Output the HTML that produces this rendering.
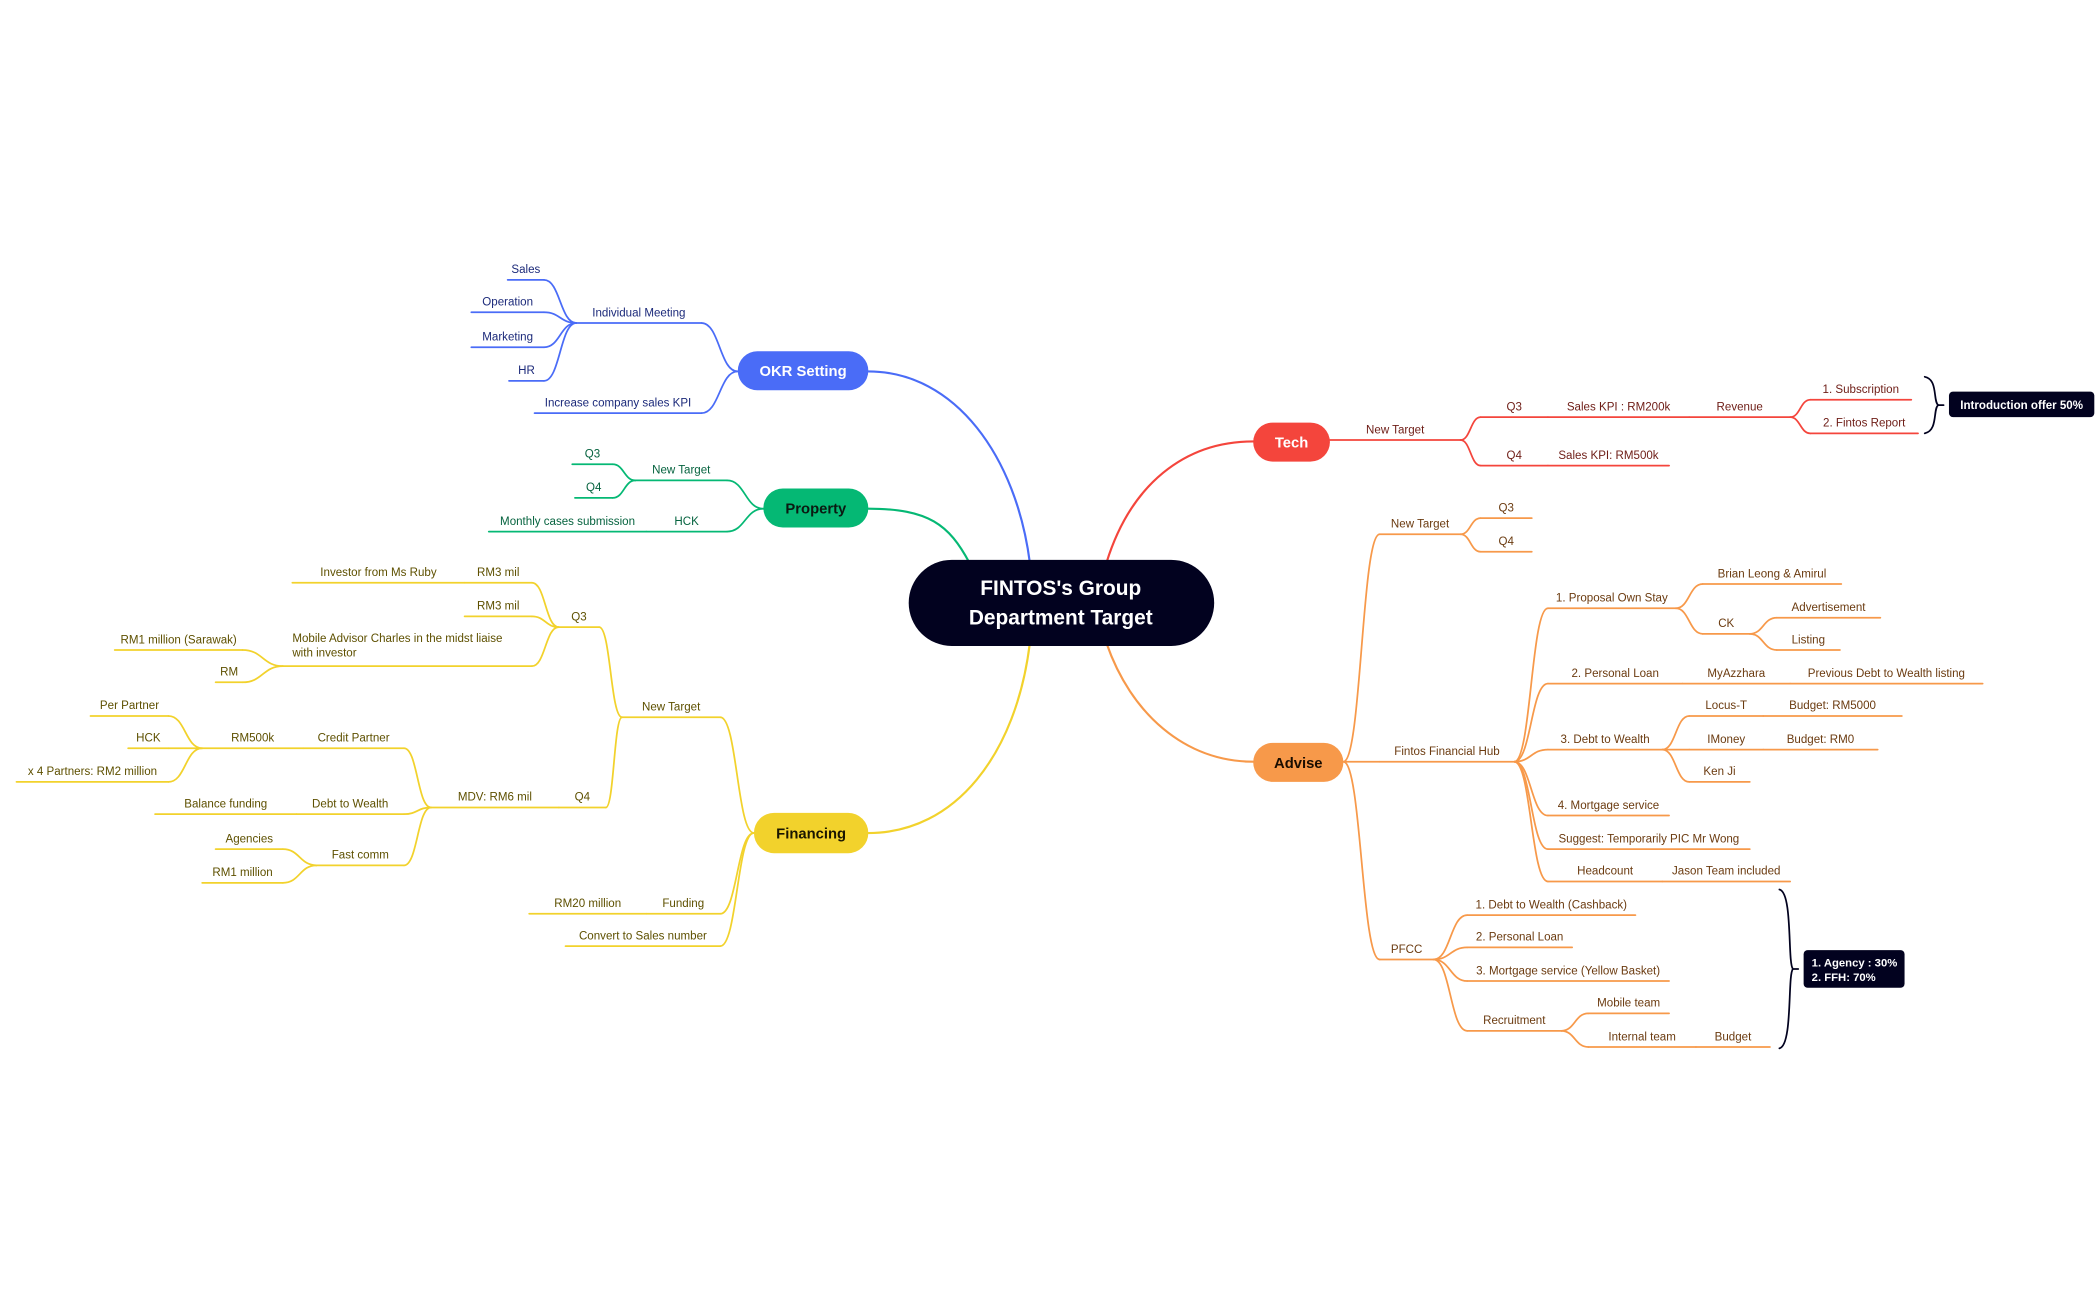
<!DOCTYPE html>
<html><head><meta charset="utf-8"><style>
html,body{margin:0;padding:0;background:#fff;width:2100px;height:1300px;overflow:hidden}
svg{display:block}
text{font-family:"Liberation Sans",sans-serif}
</style></head><body>
<svg id="s" width="2100" height="1300" viewBox="0 0 1560 966" xmlns="http://www.w3.org/2000/svg">
<g id="g" fill="none" stroke-width="1.3" stroke-linecap="round"></g>
</svg>
<script>
var g=document.getElementById('g'),NS='http://www.w3.org/2000/svg';
function el(t,a,txt){var e=document.createElementNS(NS,t);for(var k in a)e.setAttribute(k,a[k]);if(txt!==undefined)e.textContent=txt;g.appendChild(e);return e;}
function path(d,c,w){el('path',{d:d,stroke:c,'stroke-width':w||1.3,fill:'none'});}
function conn(px,py,cx,cy,c){var m=(px+cx)/2;path('M'+px+' '+py+' C'+m+' '+py+','+m+' '+cy+','+cx+' '+cy,c);}
function node(x1,x2,y,t,c,tc,lines){path('M'+x1+' '+y+' L'+x2+' '+y,c);
 if(lines){for(var i=0;i<lines.length;i++)el('text',{x:x1+7,y:y-18+i*11,'font-size':8.6,fill:tc,stroke:'none'},lines[i]);}
 else el('text',{x:(x1+x2)/2,y:y-5,'font-size':8.6,fill:tc,stroke:'none','text-anchor':'middle'},t);}
function pill(x1,y1,x2,y2,f,t,tc,fs){el('rect',{x:x1,y:y1,width:x2-x1,height:y2-y1,rx:(y2-y1)/2,fill:f,stroke:'none'});
 el('text',{x:(x1+x2)/2,y:(y1+y2)/2+4,'font-size':fs||11,'font-weight':'bold',fill:tc,stroke:'none','text-anchor':'middle'},t);}
var B='#4a6cf7',BT='#1c2a7a',G='#05b874',GT='#06633f',Y='#f2d22c',YT='#5e5000',R='#f4453c',RT='#6e1d16',O='#f7994a',OT='#6b3b10';
// main connectors
path('M765 418 C755 340,710 276,645 276',B,1.6);
path('M720 418 C705 390,690 378,645 378',G,1.6);
path('M765 478 C755 560,710 619,645 619',Y,1.6);
path('M822 418 C840 360,880 328,931 328',R,1.6);
path('M822 478 C840 530,880 566,931 566',O,1.6);
// OKR
node(428,521,240,'Individual Meeting',B,BT);conn(548,276,521,240,B);
node(397,521,307,'Increase company sales KPI',B,BT);conn(548,276,521,307,B);
[[377,208,'Sales'],[350,232,'Operation'],[350,258,'Marketing'],[378,283,'HR']].forEach(function(a){node(a[0],404,a[1],a[2],B,BT);conn(428,240,404,a[1],B);});
// Property
node(472,540,357,'New Target',G,GT);conn(567,378,540,357,G);
node(480,540,395,'HCK',G,GT);conn(567,378,540,395,G);node(363,480,395,'Monthly cases submission',G,GT);
node(425,455,345,'Q3',G,GT);conn(472,357,455,345,G);
node(427,455,370,'Q4',G,GT);conn(472,357,455,370,G);
// Financing
node(462,535,533,'New Target',Y,YT);conn(560,619,535,533,Y);
node(480,535,679,'Funding',Y,YT);conn(560,619,535,679,Y);node(393,480,679,'RM20 million',Y,YT);
node(420,535,703,'Convert to Sales number',Y,YT);conn(560,619,535,703,Y);
node(415,445,466,'Q3',Y,YT);conn(462,533,445,466,Y);
node(415,450,600,'Q4',Y,YT);conn(462,533,450,600,Y);
node(345,395,433,'RM3 mil',Y,YT);conn(415,466,395,433,Y);node(217,345,433,'Investor from Ms Ruby',Y,YT);
node(345,395,458,'RM3 mil',Y,YT);conn(415,466,395,458,Y);
node(210,395,495,'',Y,YT,['Mobile Advisor Charles in the midst liaise','with investor']);conn(415,466,395,495,Y);
node(85,180,483,'RM1 million (Sarawak)',Y,YT);conn(210,495,180,483,Y);
node(160,180,507,'RM',Y,YT);conn(210,495,180,507,Y);
node(320,415,600,'MDV: RM6 mil',Y,YT);
node(225,300,556,'Credit Partner',Y,YT);conn(320,600,300,556,Y);
node(220,300,605,'Debt to Wealth',Y,YT);conn(320,600,300,605,Y);node(115,220,605,'Balance funding',Y,YT);
node(235,300,643,'Fast comm',Y,YT);conn(320,600,300,643,Y);
node(150,225,556,'RM500k',Y,YT);
node(67,125,532,'Per Partner',Y,YT);conn(150,556,125,532,Y);
node(95,125,556,'HCK',Y,YT);conn(150,556,125,556,Y);
node(12,125,581,'x 4 Partners: RM2 million',Y,YT);conn(150,556,125,581,Y);
node(160,210,631,'Agencies',Y,YT);conn(235,643,210,631,Y);
node(150,210,656,'RM1 million',Y,YT);conn(235,643,210,656,Y);
// Tech
node(988,1085,327,'New Target',R,RT);
node(1100,1150,310,'Q3',R,RT);conn(1085,327,1100,310,R);
node(1150,1255,310,'Sales KPI : RM200k',R,RT);node(1255,1330,310,'Revenue',R,RT);
node(1100,1150,346,'Q4',R,RT);conn(1085,327,1100,346,R);node(1150,1240,346,'Sales KPI: RM500k',R,RT);
node(1345,1420,297,'1. Subscription',R,RT);conn(1330,310,1345,297,R);
node(1345,1425,322,'2. Fintos Report',R,RT);conn(1330,310,1345,322,R);
path('M1430 280 C1440 282,1436 298,1440 301 C1436 304,1440 320,1430 322','#02021f',1.3);path('M1440 301 L1444 301','#02021f',1.3);
el('rect',{x:1448,y:291,width:108,height:19,rx:3,fill:'#02021f'});
el('text',{x:1502,y:304,'font-size':8.6,'font-weight':'bold',fill:'#fff','text-anchor':'middle'},'Introduction offer 50%');
// Advise
node(1025,1085,397,'New Target',O,OT);conn(998,566,1025,397,O);
node(1100,1138,385,'Q3',O,OT);conn(1085,397,1100,385,O);
node(1100,1138,410,'Q4',O,OT);conn(1085,397,1100,410,O);
node(1025,1125,566,'Fintos Financial Hub',O,OT);path('M998 566 L1025 566',O);
node(1025,1065,713,'PFCC',O,OT);conn(998,566,1025,713,O);
[[1150,1245,452,'1. Proposal Own Stay'],[1150,1250,508,'2. Personal Loan'],[1150,1235,557,'3. Debt to Wealth'],[1150,1240,606,'4. Mortgage service'],[1150,1300,631,'Suggest: Temporarily PIC Mr Wong'],[1150,1235,655,'Headcount']].forEach(function(a){node(a[0],a[1],a[2],a[3],O,OT);conn(1125,566,a[0],a[2],O);});
node(1250,1330,508,'MyAzzhara',O,OT);node(1330,1473,508,'Previous Debt to Wealth listing',O,OT);
node(1235,1330,655,'Jason Team included',O,OT);
node(1265,1368,434,'Brian Leong & Amirul',O,OT);conn(1245,452,1265,434,O);
node(1265,1300,471,'CK',O,OT);conn(1245,452,1265,471,O);
node(1320,1397,459,'Advertisement',O,OT);conn(1300,471,1320,459,O);
node(1320,1367,483,'Listing',O,OT);conn(1300,471,1320,483,O);
node(1255,1310,532,'Locus-T',O,OT);conn(1235,557,1255,532,O);node(1310,1413,532,'Budget: RM5000',O,OT);
node(1255,1310,557,'IMoney',O,OT);conn(1235,557,1255,557,O);node(1310,1395,557,'Budget: RM0',O,OT);
node(1255,1300,581,'Ken Ji',O,OT);conn(1235,557,1255,581,O);
[[1090,1215,680,'1. Debt to Wealth (Cashback)'],[1090,1168,704,'2. Personal Loan'],[1090,1240,729,'3. Mortgage service (Yellow Basket)'],[1090,1160,766,'Recruitment']].forEach(function(a){node(a[0],a[1],a[2],a[3],O,OT);conn(1065,713,a[0],a[2],O);});
node(1180,1240,753,'Mobile team',O,OT);conn(1160,766,1180,753,O);
node(1180,1260,778,'Internal team',O,OT);conn(1160,766,1180,778,O);node(1260,1315,778,'Budget',O,OT);
path('M1322 661 C1332 663,1328 715,1332 720 C1328 725,1332 777,1322 779','#02021f',1.3);path('M1332 720 L1336 720','#02021f',1.3);
el('rect',{x:1340,y:706,width:75,height:28,rx:3,fill:'#02021f'});
el('text',{x:1346,y:718,'font-size':8.4,'font-weight':'bold',fill:'#fff'},'1. Agency : 30%');
el('text',{x:1346,y:729,'font-size':8.4,'font-weight':'bold',fill:'#fff'},'2. FFH: 70%');
// pills
pill(548,261,645,290,B,'OKR Setting','#fff');
pill(567,363,645,392,G,'Property','#0b1a12');
pill(560,604,645,634,Y,'Financing','#1a1600');
pill(931,314,988,343,R,'Tech','#fff');
pill(931,552,998,581,O,'Advise','#1a0d00');
el('rect',{x:675,y:416,width:227,height:64,rx:32,fill:'#02021f'});
el('text',{x:788,y:442,'font-size':15.5,'font-weight':'bold',fill:'#fff','text-anchor':'middle'},"FINTOS's Group");
el('text',{x:788,y:464,'font-size':15.5,'font-weight':'bold',fill:'#fff','text-anchor':'middle'},'Department Target');
</script>
</body></html>
